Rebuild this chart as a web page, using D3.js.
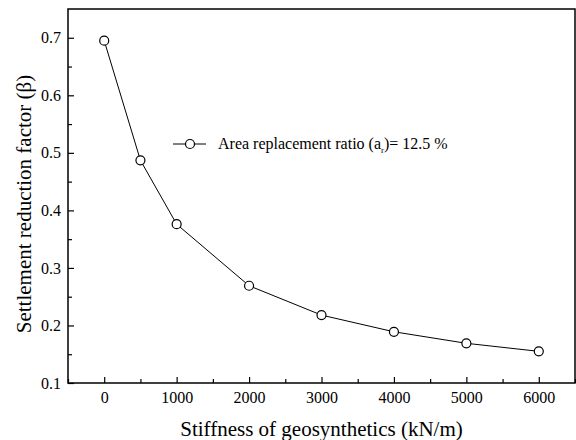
<!DOCTYPE html>
<html>
<head>
    <meta charset="utf-8" />
    <script src="https://d3js.org/d3.v7.min.js"></script>
    <style type="text/css">
        body { margin: 0; background: #fff; }
        text { font-family: "Liberation Serif", "Times New Roman", serif; fill: #000; }
        .line { fill: none; stroke: #000; stroke-width: 1; }
        .dot { fill: #fff; stroke: #000; stroke-width: 1.2; }
    </style>
</head>
<body>
    <script>
        // stiffness (kN/m) and settlement reduction factor
        var stiffness = [0, 500, 1000, 2000, 3000, 4000, 5000, 6000];
        var beta = [0.695, 0.487, 0.376, 0.269, 0.218, 0.189, 0.169, 0.155];
        var xTicks = [0, 1000, 2000, 3000, 4000, 5000, 6000];
        var yTicks = [0.1, 0.2, 0.3, 0.4, 0.5, 0.6, 0.7];
        var seriesName = 'Area replacement ratio (a';

        function drawChart() {
            var data = stiffness.map(function (s, i) { return { x: s, y: beta[i] }; });

            var W = 576, H = 440;
            var pLeft = 68, pRight = 575, pTop = 9, pBottom = 383;

            var svg = d3.select('body').append('svg')
                .attr('width', W)
                .attr('height', H);

            var xScale = d3.scaleLinear().domain([-500, 6500]).range([pLeft, pRight]);
            var yScale = d3.scaleLinear().domain([0.1, 0.75]).range([pBottom, pTop]);

            // minor ticks
            var xMinor = d3.range(-500, 6501, 500).filter(function (v) { return v % 1000 !== 0; });
            var yMinor = [0.15, 0.25, 0.35, 0.45, 0.55, 0.65];

            svg.append('g')
                .attr('transform', `translate(0,${pBottom})`)
                .call(d3.axisBottom(xScale).tickValues(xMinor).tickSize(-4).tickFormat(''))
                .call(function (g) { g.select('.domain').remove(); });
            svg.append('g')
                .attr('transform', `translate(${pLeft},0)`)
                .call(d3.axisLeft(yScale).tickValues(yMinor).tickSize(-4).tickFormat(''))
                .call(function (g) { g.select('.domain').remove(); });

            // major ticks
            var xAxis = svg.append('g')
                .attr('transform', `translate(0,${pBottom})`)
                .call(d3.axisBottom(xScale).tickValues(xTicks).tickSize(-6).tickPadding(9).tickFormat(d3.format('d')));
            xAxis.select('.domain').remove();
            xAxis.selectAll('text').style('font-size', '16px');

            var yAxis = svg.append('g')
                .attr('transform', `translate(${pLeft},0)`)
                .call(d3.axisLeft(yScale).tickValues(yTicks).tickSize(-6).tickPadding(7).tickFormat(d3.format('.1f')));
            yAxis.select('.domain').remove();
            yAxis.selectAll('text').style('font-size', '16px');

            svg.selectAll('.tick line').attr('stroke', '#000').attr('stroke-width', 1.2);

            // frame
            svg.append('rect')
                .attr('x', pLeft).attr('y', pTop)
                .attr('width', pRight - pLeft).attr('height', pBottom - pTop)
                .attr('fill', 'none').attr('stroke', '#000').attr('stroke-width', 1.5);

            var line = d3.line()
                .x(function (d) { return xScale(d.x); })
                .y(function (d) { return yScale(d.y); });

            svg.append('path').datum(data).attr('class', 'line').attr('d', line);

            svg.selectAll('.dot')
                .data(data)
                .enter()
                .append('circle')
                .attr('class', 'dot')
                .attr('cx', function (d) { return xScale(d.x); })
                .attr('cy', function (d) { return yScale(d.y); })
                .attr('r', 4.5);

            // legend
            var lg = svg.append('g').attr('transform', 'translate(173,144)');
            lg.append('line').attr('x1', 0).attr('x2', 33).attr('y1', 0).attr('y2', 0).attr('stroke', '#000');
            lg.append('circle').attr('class', 'dot').attr('cx', 17).attr('cy', 0).attr('r', 4.5);
            var lt = lg.append('text').attr('x', 45).attr('y', 5).style('font-size', '16px');
            lt.append('tspan').text(seriesName);
            lt.append('tspan').attr('dy', 4).style('font-size', '9px').text('r');
            lt.append('tspan').attr('dy', -4).text(')= 12.5 %');

            // axis titles
            svg.append('text')
                .attr('x', (pLeft + pRight) / 2)
                .attr('y', 436)
                .attr('text-anchor', 'middle')
                .style('font-size', '21px')
                .text('Stiffness of geosynthetics (kN/m)');

            svg.append('text')
                .attr('transform', 'translate(31,204) rotate(-90)')
                .attr('text-anchor', 'middle')
                .style('font-size', '21px')
                .text('Settlement reduction factor (β)');
        }

        drawChart();
    </script>
</body>
</html>
